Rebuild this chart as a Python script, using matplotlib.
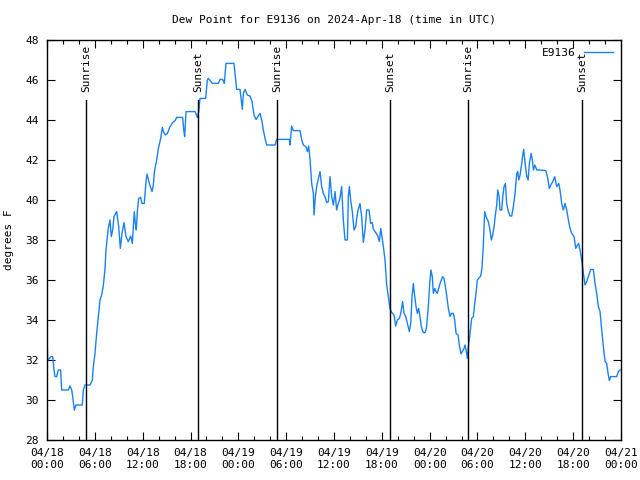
"""Dew point for station E9136, 2024-04-18 .. 04-21 (UTC), gnuplot-like look."""
import matplotlib
matplotlib.use("Agg")
import matplotlib.pyplot as plt
from matplotlib.ticker import MultipleLocator

# hours since 2024-04-18 00:00 UTC
HOURS = [
    0.04, 0.07, 0.13, 0.5, 0.71, 0.88, 1.0, 1.21, 1.42, 1.71, 1.84, 2.68, 2.88, 3.1, 3.22,
    3.43, 3.64, 4.43, 4.56, 4.77, 5.4, 5.69, 5.81, 6.02, 6.23, 6.44, 6.65, 6.86, 7.07, 7.28,
    7.4, 7.57, 7.69, 7.9, 8.07, 8.24, 8.4, 8.74, 8.99, 9.2, 9.41, 9.66, 9.91, 10.2, 10.5,
    10.7, 10.95, 11.08, 11.2, 11.33, 11.5, 11.75, 11.92, 12.2, 12.42, 12.55, 12.84, 13.17,
    13.34, 13.5, 13.76, 13.97, 14.26, 14.47, 14.6, 14.85, 15.1, 15.43, 15.77, 16.06, 16.27,
    17.02, 17.15, 17.27, 17.44, 18.57, 18.86, 19.03, 19.19, 19.9, 20.11, 20.24, 20.74, 21.5,
    21.7, 22.03, 22.24, 22.45, 23.45, 23.71, 23.79, 24.21, 24.41, 24.5, 24.63, 24.84, 25.13,
    25.46, 25.72, 25.97, 26.22, 26.72, 26.93, 27.14, 27.35, 27.56, 28.6, 28.81, 30.4, 30.48,
    30.69, 30.9, 31.74, 31.95, 32.16, 32.49, 32.66, 32.83, 33.0, 33.2, 33.41, 33.49, 33.66,
    33.83, 34.04, 34.25, 34.45, 34.66, 34.87, 35.08, 35.29, 35.5, 35.71, 35.92, 36.13, 36.33,
    36.54, 36.75, 36.96, 37.17, 37.38, 37.68, 37.8, 37.93, 38.09, 38.3, 38.51, 38.72, 38.97,
    39.26, 39.47, 39.68, 39.89, 40.1, 40.39, 40.6, 40.81, 40.93, 41.14, 41.44, 41.69, 41.86,
    42.02, 42.19, 42.4, 42.61, 42.82, 43.03, 43.24, 43.53, 43.74, 43.95, 44.2, 44.37, 44.61,
    44.78, 45.0, 45.2, 45.45, 45.62, 45.79, 45.95, 46.08, 46.29, 46.45, 46.62, 46.79, 46.95,
    47.2, 47.45, 47.62, 47.83, 48.04, 48.16, 48.33, 48.46, 48.63, 48.79, 48.96, 49.13, 49.38,
    49.63, 49.8, 49.97, 50.13, 50.34, 50.55, 50.72, 50.97, 51.14, 51.31, 51.56, 51.72, 51.93,
    52.1, 52.31, 52.44, 52.56, 52.73, 52.86, 53.06, 53.27, 53.48, 53.65, 53.81, 53.98, 54.15,
    54.4, 54.57, 54.74, 54.9, 55.07, 55.36, 55.57, 55.74, 55.91, 56.08, 56.24, 56.41, 56.54,
    56.71, 56.83, 57.04, 57.17, 57.33, 57.5, 57.66, 57.87, 58.08, 58.29, 58.5, 58.71, 58.92,
    59.05, 59.17, 59.34, 59.55, 59.67, 59.8, 59.97, 60.18, 60.35, 60.51, 60.72, 60.85, 61.02,
    61.19, 61.44, 61.77, 62.57, 62.77, 63.02, 63.19, 63.44, 63.69, 63.94, 64.19, 64.35, 64.56,
    64.77, 64.98, 65.19, 65.4, 65.61, 65.82, 66.11, 66.32, 66.53, 66.69, 66.86, 67.07, 67.28,
    67.49, 67.7, 67.91, 68.2, 68.53, 68.74, 68.95, 69.16, 69.37, 69.58, 69.79, 70.0, 70.2,
    70.41, 70.54, 70.71, 71.46, 71.67, 71.88,
]
DEW_F = [
    32.67, 32.08, 32.0, 32.17, 32.17, 31.5, 31.17, 31.17, 31.5, 31.5, 30.5, 30.5, 30.7, 30.5,
    30.17, 29.5, 29.75, 29.75, 30.5, 30.75, 30.75, 31.0, 31.67, 32.33, 33.33, 34.17, 35.0,
    35.25, 35.75, 36.58, 37.5, 38.17, 38.58, 39.0, 38.17, 38.5, 39.17, 39.42, 38.67, 37.58,
    38.33, 38.87, 38.17, 37.92, 38.2, 37.83, 39.42, 38.83, 38.5, 39.42, 40.08, 40.13, 39.83,
    39.83, 40.92, 41.3, 40.83, 40.42, 40.75, 41.5, 42.0, 42.58, 43.08, 43.63, 43.42, 43.25,
    43.33, 43.67, 43.87, 43.97, 44.13, 44.13, 43.5, 43.17, 44.42, 44.42, 44.13, 44.42, 45.08,
    45.08, 46.0, 46.08, 45.83, 45.83, 46.03, 46.03, 45.83, 46.83, 46.83, 45.83, 45.53, 45.53,
    44.83, 44.53, 45.33, 45.53, 45.25, 45.2, 44.92, 44.25, 44.03, 44.33, 44.0, 43.5, 43.08,
    42.75, 42.75, 43.03, 43.03, 42.75, 43.7, 43.47, 43.47, 43.0, 42.75, 42.67, 42.42, 42.7,
    42.0, 40.83, 40.33, 39.25, 40.17, 40.67, 41.08, 41.42, 40.67, 40.33, 40.17, 39.87, 39.92,
    41.17, 40.17, 39.75, 40.42, 39.5, 39.83, 40.08, 40.67, 39.0, 38.0, 38.0, 40.17, 40.67,
    40.0, 39.42, 38.5, 38.67, 39.42, 39.83, 39.17, 37.88, 38.5, 39.5, 39.5, 38.83, 38.87,
    38.55, 38.42, 38.25, 37.92, 38.58, 38.17, 37.67, 37.0, 35.75, 35.17, 34.55, 34.37, 34.25,
    33.7, 34.0, 34.08, 34.33, 34.92, 34.33, 34.17, 33.83, 33.42, 33.83, 35.17, 35.83, 35.33,
    34.67, 34.33, 34.58, 34.17, 33.67, 33.37, 33.37, 33.67, 34.67, 36.0, 36.5, 36.17, 35.33,
    35.58, 35.42, 35.33, 35.58, 35.92, 36.17, 36.08, 35.67, 35.25, 34.58, 34.17, 34.33, 34.33,
    34.0, 33.33, 33.25, 32.75, 32.3, 32.42, 32.58, 32.75, 32.5, 32.08, 32.67, 33.33, 34.08,
    34.17, 34.83, 35.33, 36.0, 36.08, 36.2, 36.63, 37.83, 39.42, 39.17, 38.92, 38.5, 38.0,
    38.25, 38.67, 39.25, 39.75, 40.5, 40.17, 39.5, 39.5, 40.17, 40.67, 40.83, 39.83, 39.42,
    39.2, 39.2, 39.67, 40.33, 41.33, 41.42, 41.0, 41.25, 41.83, 42.25, 42.53, 41.83, 41.17,
    41.0, 41.83, 42.33, 42.08, 41.5, 41.75, 41.5, 41.5, 41.47, 41.17, 40.58, 40.75, 40.92,
    41.17, 40.67, 40.83, 40.5, 39.83, 39.5, 39.83, 39.5, 39.0, 38.58, 38.33, 38.17, 37.58,
    37.75, 37.83, 37.5, 37.0, 36.33, 35.75, 35.92, 36.17, 36.53, 36.53, 35.83, 35.33, 34.67,
    34.42, 33.5, 32.67, 31.92, 31.83, 31.25, 30.97, 31.17, 31.17, 31.42, 31.5,
]

SUN_HOURS = [4.95, 18.95, 28.9, 43.05, 52.85, 67.13]
SUN_LABELS = ["Sunrise", "Sunset", "Sunrise", "Sunset", "Sunrise", "Sunset"]

TICK_HOURS = [0, 6, 12, 18, 24, 30, 36, 42, 48, 54, 60, 66, 72]
TICK_LABELS = [
    "04/18\n00:00", "04/18\n06:00", "04/18\n12:00", "04/18\n18:00",
    "04/19\n00:00", "04/19\n06:00", "04/19\n12:00", "04/19\n18:00",
    "04/20\n00:00", "04/20\n06:00", "04/20\n12:00", "04/20\n18:00",
    "04/21\n00:00",
]

plt.rcParams["font.family"] = ["DejaVu Sans Mono"]
plt.rcParams["font.size"] = 8

fig = plt.figure(figsize=(6.4, 4.8), dpi=100)
ax = fig.add_axes([47 / 640, 40 / 480, 574 / 640, 400 / 480])

ax.plot(HOURS, DEW_F, color="#1a82f0", lw=1.0, label="E9136")

for h, lab in zip(SUN_HOURS, SUN_LABELS):
    ax.plot([h, h], [28, 45], color="black", lw=1.0)
    ax.text(h, 45.4, lab, rotation=90, ha="center", va="bottom", fontsize=8)

ax.set_xlim(0, 72)
ax.set_ylim(28, 48)
ax.set_xticks(TICK_HOURS)
ax.set_xticklabels(TICK_LABELS)
ax.xaxis.set_minor_locator(MultipleLocator(2))
ax.yaxis.set_major_locator(MultipleLocator(2))
ax.tick_params(which="both", direction="in", top=True, right=True, width=0.8)
ax.tick_params(which="major", length=6, pad=6)
ax.tick_params(which="minor", length=3)
for sp in ax.spines.values():
    sp.set_linewidth(1.0)

ax.set_ylabel("degrees F", labelpad=8)
ax.set_title("Dew Point for E9136 on 2024-Apr-18 (time in UTC)", fontsize=8, pad=12)

leg = ax.legend(loc="upper right", frameon=False, handlelength=2.6, handletextpad=0.8,
                markerfirst=False, borderaxespad=0.3)

fig.savefig("out.png", dpi=100)
